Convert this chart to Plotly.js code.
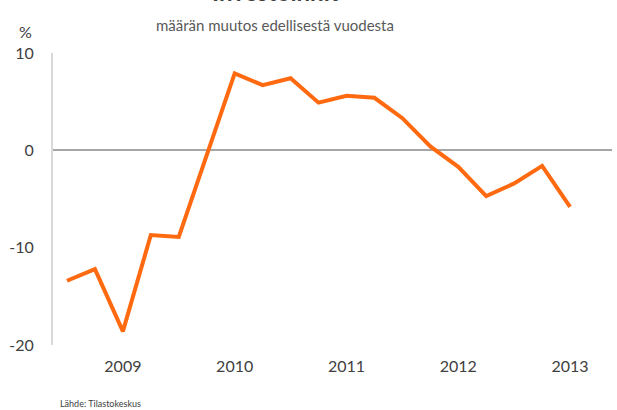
<!DOCTYPE html>
<html>
<head>
<meta charset="utf-8">
<script src="https://cdn.plot.ly/plotly-3.0.1.min.js"></script>
<style>html,body{margin:0;padding:0;background:#fff;}#chart{width:617px;height:410px;}</style>
</head>
<body>
<div id="chart"></div>
<script>
const quarters = ["2008Q3","2008Q4","2009Q1","2009Q2","2009Q3","2009Q4","2010Q1","2010Q2","2010Q3","2010Q4","2011Q1","2011Q2","2011Q3","2011Q4","2012Q1","2012Q2","2012Q3","2012Q4","2013Q1"];
const changePct = [-13.4,-12.2,-18.6,-8.7,-8.9,-0.5,7.9,6.7,7.4,4.9,5.6,5.4,3.3,0.4,-1.7,-4.7,-3.4,-1.6,-5.8];
const tickQuarters = ["2009Q1","2010Q1","2011Q1","2012Q1","2013Q1"];
const tickLabels = ["2009","2010","2011","2012","2013"];
const yTicks = [10,0,-10,-20];

const font = "Lato, 'Open Sans', sans-serif";
const data = [{
  x: quarters, y: changePct, type: "scatter", mode: "lines",
  line: {color: "#FF6A10", width: 4}, hoverinfo: "skip"
}];
const layout = {
  width: 617, height: 410,
  margin: {l: 53, r: 5, t: 53, b: 65},
  paper_bgcolor: "#fff", plot_bgcolor: "#fff",
  showlegend: false,
  font: {family: font, color: "#404040", size: 16},
  xaxis: {
    type: "category", range: [-0.5, 19.5],
    tickvals: tickQuarters, ticktext: tickLabels,
    showgrid: false, zeroline: false, showline: false, ticks: "",
    ticklabelstandoff: 10,
    tickfont: {family: font, size: 16, color: "#404040"}
  },
  yaxis: {
    range: [-20, 10], tickvals: yTicks, ticktext: yTicks.map(String),
    showgrid: false, zeroline: true, zerolinecolor: "#A6A6A6", zerolinewidth: 2,
    showline: true, linecolor: "#D9D9D9", linewidth: 2, ticks: "",
    ticklabelstandoff: 14,
    tickfont: {family: font, size: 16, color: "#404040"}
  },
  annotations: [
    {text: "<b>Investoinnit</b>", xref: "paper", yref: "paper", x: 0.398, y: 1.1545, xanchor: "center", yanchor: "bottom",
     showarrow: false, font: {family: font, size: 24, color: "#404040"}},
    {text: "määrän muutos edellisestä vuodesta", xref: "paper", yref: "paper", x: 0.398, y: 1.095, xanchor: "center", yanchor: "middle",
     showarrow: false, font: {family: font, size: 15, color: "#595959"}},
    {text: "%", xref: "paper", yref: "paper", x: -0.05, y: 1.072, xanchor: "center", yanchor: "middle",
     showarrow: false, font: {family: font, size: 16, color: "#404040"}},
    {text: "Lähde: Tilastokeskus", xref: "paper", yref: "paper", x: 0.009, y: -0.2, xanchor: "left", yanchor: "middle",
     showarrow: false, font: {family: font, size: 9, color: "#404040"}}
  ]
};
Plotly.newPlot("chart", data, layout, {displayModeBar: false, staticPlot: true});
</script>
</body>
</html>
